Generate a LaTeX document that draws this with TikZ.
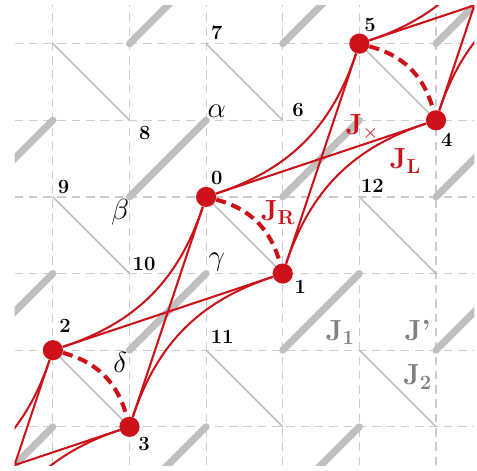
\documentclass[tikz,border=0pt]{standalone}
\usetikzlibrary{positioning}
\definecolor{Scarlet}{HTML}{CC1118}

\begin{document}
\begin{tikzpicture}[x=1.6cm,y=1.6cm,
    site/.style={circle,fill=Scarlet,inner sep=0pt,minimum size=12pt},
    num/.style={font=\large\bfseries},
    greek/.style={font=\LARGE},
    grid line/.style={gray!40,line width=0.7pt,dash pattern=on 5pt off 3.5pt},
    bondA/.style={gray!50,line width=4.2pt,line cap=round},
    bondB/.style={gray!50,line width=0.9pt},
    hop/.style={Scarlet,line width=1.2pt},
    dimer/.style={Scarlet,line width=2.4pt,dash pattern=on 6pt off 3.5pt},
    coup/.style={font=\LARGE}]
  \useasboundingbox (-0.69,-0.575) rectangle (5.535,5.57);
  \begin{scope}
    \clip (-0.5,-0.5) rectangle (5.5,5.5);
    \foreach \k in {0,...,5} {
      \draw[grid line] (-0.5,\k) -- (5.5,\k);
      \draw[grid line] (\k,-0.5) -- (\k,5.5);
    }
    \foreach \p in {(-1,-1),(1,-1),(3,-1),(-1,1),(1,1),(3,1),(5,1),
                    (-1,3),(1,3),(3,3),(5,3),(1,5),(3,5),(5,5)}
      \draw[bondA] \p -- ++(1,1);
    \foreach \i in {0,2,4} \foreach \j in {1,3,5}
      \draw[bondB] (\i,\j) -- ++(1,-1);

    \coordinate (uA) at (-2,-1);
    \coordinate (lA) at (-1,-2);
    \coordinate (uE) at (6,7);
    \coordinate (lE) at (7,6);
    \node[site] (d2) at (0,1) {};
    \node[site] (d3) at (1,0) {};
    \node[site] (d0) at (2,3) {};
    \node[site] (d1) at (3,2) {};
    \node[site] (d5) at (4,5) {};
    \node[site] (d4) at (5,4) {};

    \foreach \ua/\la/\ub/\lb in {uA/lA/d2/d3, d2/d3/d0/d1, d0/d1/d5/d4, d5/d4/uE/lE} {
      \draw[hop] (\ua) -- (\lb) (\la) -- (\ub);
      \draw[hop] (\ua) to[out=18.43,in=251.57] (\ub);
      \draw[hop] (\la) to[out=71.57,in=198.43] (\lb);
    }
    \draw[dimer] (d2) to[bend left=30] (d3);
    \draw[dimer] (d0) to[bend left=30] (d1);
    \draw[dimer] (d5) to[bend left=30] (d4);
  \end{scope}

  \foreach \t/\x/\y in {0/2.14/3.25, 1/3.23/1.82, 2/0.16/1.32, 3/1.19/-0.22,
      4/5.14/3.74, 5/4.14/5.24, 6/3.2/4.14, 7/2.14/5.14, 8/1.2/3.83,
      9/0.14/3.13, 10/1.19/2.13, 11/2.21/1.18, 12/4.17/3.14}
    \node[num] (lab\t) at (\x,\y) {\t};

  \node[greek] (alpha) at (2.14,4.12) {$\alpha$};
  \node[greek] (beta) at (0.88,2.8) {$\beta$};
  \node[greek] (gamma) at (2.14,2.15) {$\gamma$};
  \node[greek] (delta) at (0.88,0.84) {$\delta$};

  \node[coup,Scarlet] (JR) at (2.94,2.8) {$\mathbf{J_R}$};
  \node[coup,Scarlet] (Jx) at (4.04,3.91) {$\mathbf{J}_\times$};
  \node[coup,Scarlet] (JL) at (4.6,3.47) {$\mathbf{J_L}$};
  \node[coup,gray] (J1) at (3.75,1.23) {$\mathbf{J_1}$};
  \node[coup,gray] (Jp) at (4.76,1.26) {\textbf{J'}};
  \node[coup,gray] (J2) at (4.76,0.65) {$\mathbf{J_2}$};
\end{tikzpicture}
\end{document}
